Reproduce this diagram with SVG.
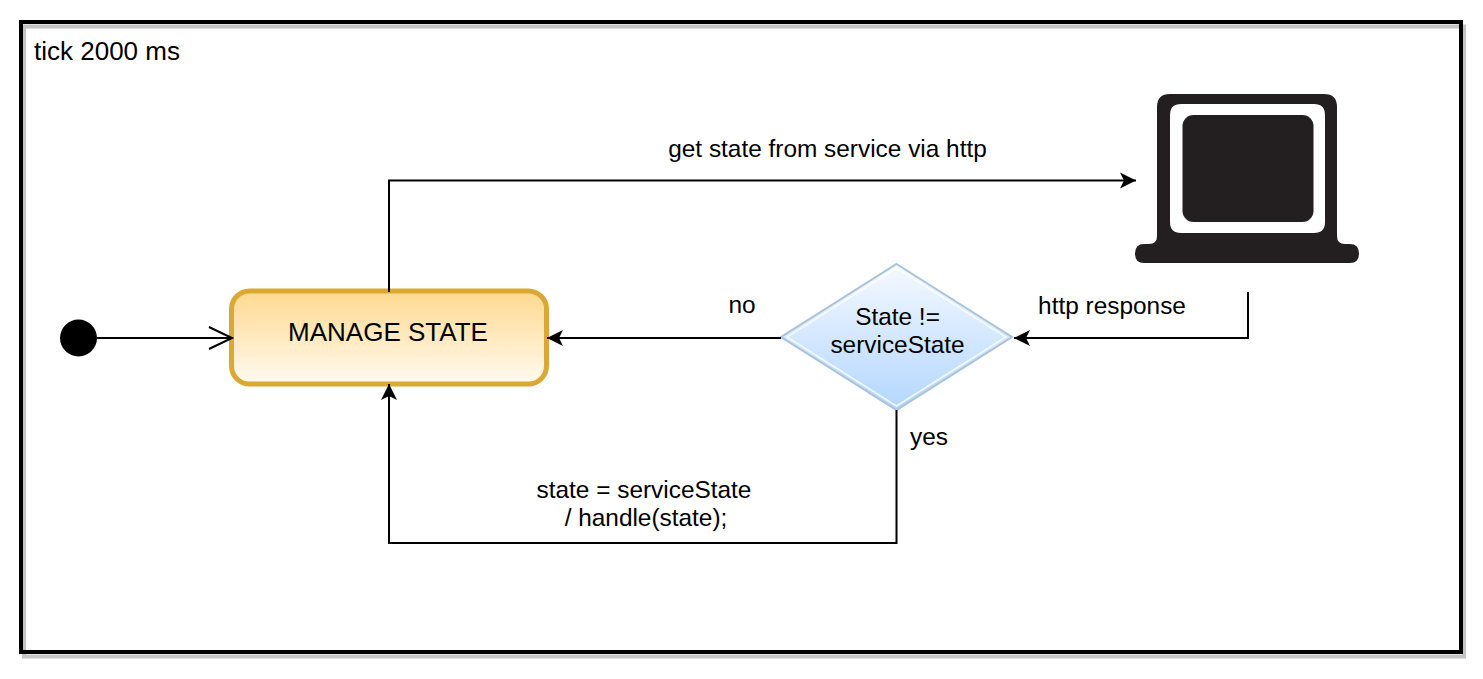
<svg xmlns="http://www.w3.org/2000/svg" width="1483" height="679" viewBox="0 0 1483 679">
<style>
text{font-family:"Liberation Sans",Arial,sans-serif;font-size:24.400px;fill:#000;text-anchor:middle}
.big{font-size:26px}
.c{fill:none;stroke:#000;stroke-width:2}
</style>
<defs>
<linearGradient id="g1" x1="0" y1="0" x2="0" y2="1"><stop offset="0" stop-color="#ffd98f"/><stop offset="1" stop-color="#fffaf0"/></linearGradient>
<linearGradient id="g2" x1="0" y1="0" x2="0" y2="1"><stop offset="0" stop-color="#f5f9ff"/><stop offset="1" stop-color="#b3d6ff"/></linearGradient>
<marker id="a" markerUnits="userSpaceOnUse" markerWidth="20" markerHeight="18" refX="16" refY="8" orient="auto" overflow="visible"><path d="M0 0L16 8L0 16L4 8Z" fill="#000"/></marker>
<marker id="o" markerUnits="userSpaceOnUse" markerWidth="26" markerHeight="26" refX="23" refY="11" orient="auto" overflow="visible"><path d="M0 0L23 11L0 22" fill="none" stroke="#000" stroke-width="2"/></marker>
</defs>
<g id="frame">
<rect x="21" y="22" width="1440" height="630" fill="#fff"/>
<rect x="24" y="26.500" width="1440" height="630" fill="none" stroke="#c4c4c4" stroke-width="4"/>
<rect x="21" y="22" width="1440" height="630" fill="none" stroke="#000" stroke-width="4"/>
<text class="big" x="107" y="60">tick 2000 ms</text>
</g>
<g id="start"><circle cx="78.500" cy="338" r="18.500" fill="#000"/></g>
<g id="manage-state">
<rect x="231.500" y="291" width="315" height="93" rx="18" fill="url(#g1)" stroke="#daa833" stroke-width="5"/>
<text class="big" x="388" y="341">MANAGE STATE</text>
</g>
<g id="decision">
<path d="M896.500 264L1012 337L896.500 410L781 337Z" fill="url(#g2)" stroke="#a9c3da" stroke-width="2"/>
<path d="M896.500 268L1006 337L896.500 406L787 337Z" fill="none" stroke="#fff" stroke-width="1.500" opacity=".8"/>
<text x="897.500" y="325">State !=</text>
<text x="897.500" y="353">serviceState</text>
</g>
<g id="service">
<path fill="#231f20" fill-rule="evenodd" d="M1170 94H1324Q1337 94 1337 107V236Q1337 244 1345 244H1350Q1359 244 1359 253.500Q1359 263 1350 263H1144Q1135 263 1135 253.500Q1135 244 1144 244H1149Q1157 244 1157 236V107Q1157 94 1170 94ZM1181 104Q1170 104 1170 115V222Q1170 233 1181 233H1314Q1325 233 1325 222V115Q1325 104 1314 104Z"/>
<rect x="1182.500" y="115" width="131" height="107" rx="11" fill="#231f20"/>
</g>
<g id="connectors">
<path class="c" d="M97 338H232" marker-end="url(#o)"/>
<path class="c" d="M389 292V180.500H1136" marker-end="url(#a)"/>
<path class="c" d="M1248 292V338H1014" marker-end="url(#a)"/>
<path class="c" d="M781 338H547" marker-end="url(#a)"/>
<path class="c" d="M896.500 410V543H389V384" marker-end="url(#a)"/>
</g>
<g id="labels">
<text x="827.500" y="157">get state from service via http</text>
<text x="1112" y="314">http response</text>
<text x="742" y="313">no</text>
<text x="929" y="445">yes</text>
<text x="644" y="498">state = serviceState</text>
<text x="646" y="526">/ handle(state);</text>
</g>
</svg>
